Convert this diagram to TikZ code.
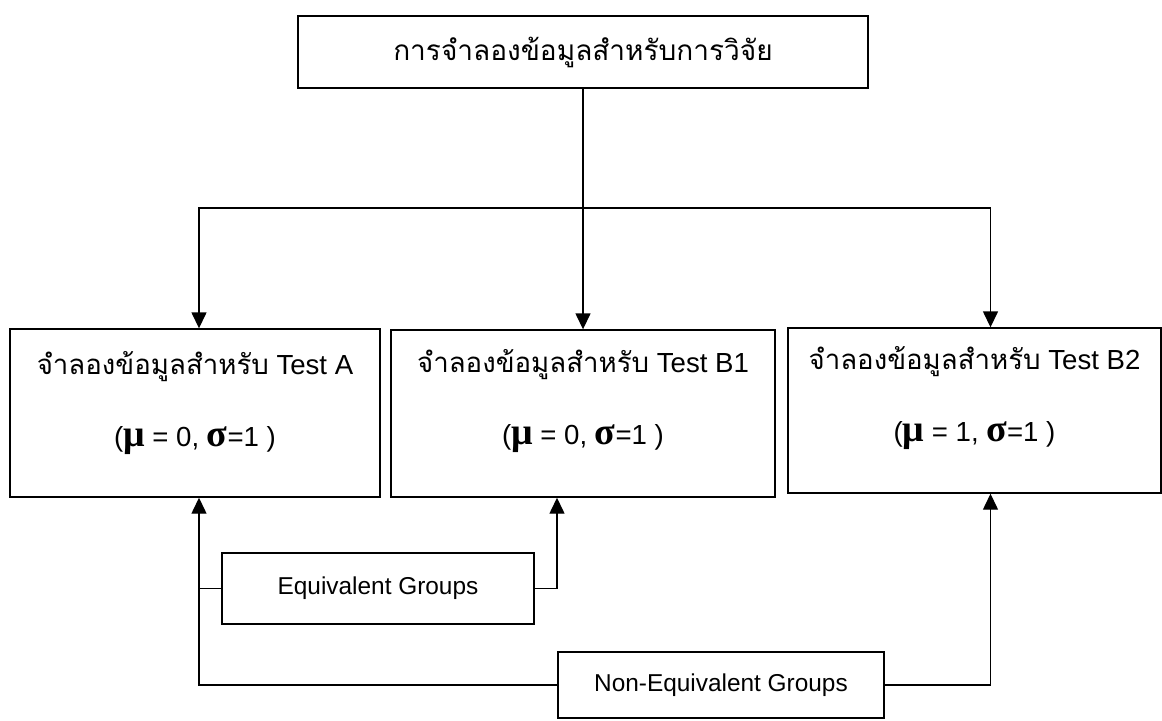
\documentclass[tikz,border=0pt]{standalone}
\usepackage{fontspec}
\setmainfont{Liberation Sans}
\newfontfamily\thaifont[Script=Thai]{Loma}
\newfontfamily\greekfont{Liberation Serif}
\usetikzlibrary{arrows.meta,positioning}
\newcommand{\grk}[1]{{\greekfont\bfseries\fontsize{19pt}{19pt}\selectfont #1}}

\begin{document}
\begin{tikzpicture}[
        x=0.5pt, y=-0.5pt,
        % Box styles
        box/.style={rectangle, draw=black, line width=0.7pt, inner sep=0pt},
        boxtext/.style={align=center, font=\fontsize{13.8pt}{36pt}\selectfont},
        grouptext/.style={font=\fontsize{12.2pt}{14pt}\selectfont},
        link/.style={line width=0.7pt},
        arrow/.style={line width=0.7pt, -{Triangle[width=7.5pt,length=8pt]}}
    ]
        \useasboundingbox (0,0) rectangle (1162,720);

        % Boxes
        \node[box, minimum width=285pt, minimum height=36pt] (root) at (583,52)
            {\thaifont\fontsize{14pt}{17pt}\selectfont การจำลองข้อมูลสำหรับการวิจัย};
        \node[box, minimum width=185pt, minimum height=84pt] (testA) at (195,413) {};
        \node[box, minimum width=192pt, minimum height=83.5pt] (testB1) at (583,413.5) {};
        \node[box, minimum width=186.5pt, minimum height=82.5pt] (testB2) at (974.5,410.5) {};
        \node[box, minimum width=156pt, minimum height=35.5pt, grouptext] (equiv) at (378,588.5) {Equivalent Groups};
        \node[box, minimum width=163pt, minimum height=33pt, grouptext] (nonequiv) at (721,685) {Non-Equivalent Groups};

        % Box texts
        \node[boxtext] (testAtext) at ([yshift=5pt]testA.center)
            {{\thaifont จำลองข้อมูลสำหรับ} Test A\\(\grk{μ} = 0, \grk{σ}=1 )};
        \node[boxtext] (testB1text) at ([yshift=6pt]testB1.center)
            {{\thaifont จำลองข้อมูลสำหรับ} Test B1\\(\grk{μ} = 0, \grk{σ}=1 )};
        \node[boxtext] (testB2text) at ([yshift=6pt]testB2.center)
            {{\thaifont จำลองข้อมูลสำหรับ} Test B2\\(\grk{μ} = 1, \grk{σ}=1 )};

        % Connections (top)
        \coordinate (split) at (583,208);
        \draw[link] (root.south) -- (split);
        \draw[arrow] (split) -| ([xshift=2pt]testA.north);
        \draw[arrow] (split) -- (testB1.north);
        \draw[arrow] (split) -| ([xshift=8pt]testB2.north);

        % Connections (bottom)
        \coordinate (railA) at ([xshift=2pt]testA.south);
        \draw[arrow] (nonequiv.west) -| (railA);
        \draw[link] (equiv.west) -- (equiv.west -| railA);
        \draw[arrow] (equiv.east) -| ([xshift=-13pt]testB1.south);
        \draw[arrow] (nonequiv.east) -| ([xshift=8pt]testB2.south);

    \end{tikzpicture}
\end{document}
